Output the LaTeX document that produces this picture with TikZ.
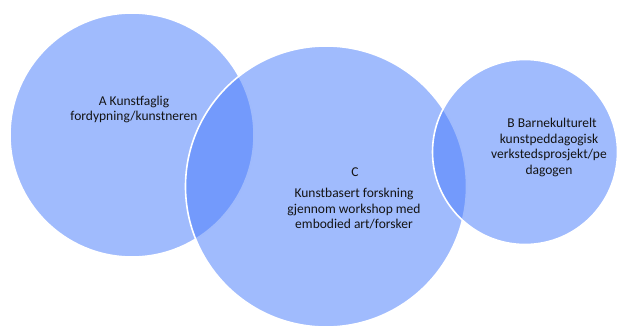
\documentclass[tikz,border=0pt]{standalone}
\usepackage{fontspec}
\setmainfont{Carlito}
\definecolor{vennblue}{RGB}{75,126,251}
\definecolor{txt}{RGB}{20,20,20}
\tikzset{
  venn/.style={circle, inner sep=0pt, fill=vennblue, fill opacity=0.53, draw=white, draw opacity=1, line width=1.6pt},
  lbl/.style={align=center, text=txt, font=\fontsize{13.5}{15.5}\selectfont, inner sep=0pt}
}
\begin{document}
\begin{tikzpicture}[x=1pt,y=-1pt]
\useasboundingbox (0,0) rectangle (618,327);
\node[venn, minimum size=244pt] (A) at (132,135) {};
\node[venn, minimum size=281pt] (C) at (326,186.5) {};
\node[venn, minimum size=185pt] (B) at (525,152) {};
\node[lbl] (ta) at (134,109.5) {A Kunstfaglig\\fordypning/kunstneren};
\node[lbl] (tc0) at (355,172) {C};
\node[lbl] (tc) at (354,209) {Kunstbasert forskning\\gjennom workshop med\\embodied art/forsker};
\node[lbl] (tb) at (549,147.5) {\ \ B Barnekulturelt\\kunstpeddagogisk\\verkstedsprosjekt/pe\\dagogen};
\end{tikzpicture}
\end{document}
